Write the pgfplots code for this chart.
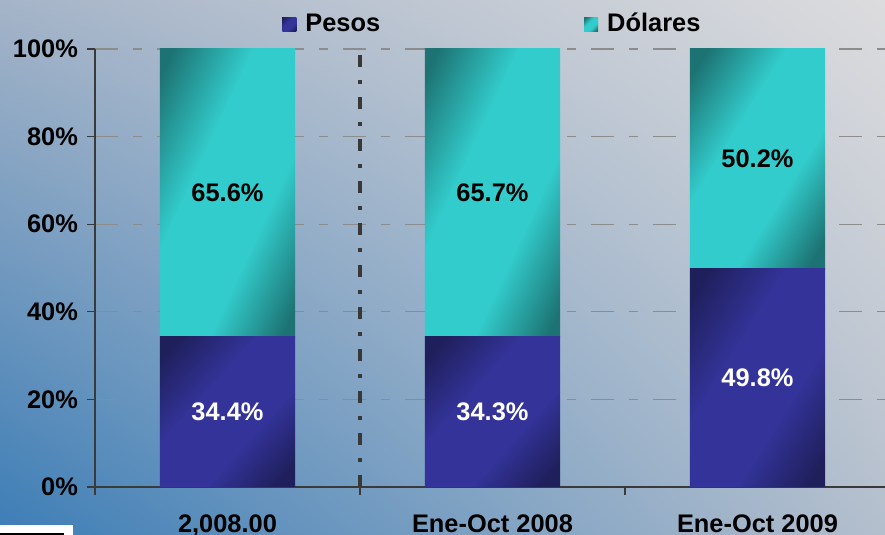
\documentclass[border=0pt]{standalone}
\usepackage{pgfplots}
\pgfplotsset{compat=1.18}
\usepackage{pgfplotstable}
\usepackage{fontspec}
\setmainfont{Liberation Sans}
\usetikzlibrary{shadings}

\definecolor{pbright}{HTML}{333399}
\definecolor{pdark}{HTML}{1F1F5C}
\definecolor{dbright}{HTML}{33CCCC}
\definecolor{ddark}{HTML}{1D7373}
\definecolor{bgTL}{HTML}{A5B4C8}
\definecolor{bgTR}{HTML}{DCDCDE}
\definecolor{bgBL}{HTML}{3C7DB6}
\definecolor{bgBR}{HTML}{B4BFCD}
\definecolor{gridc}{HTML}{8C8C8C}
\definecolor{axc}{HTML}{3A3A3A}

\pgfdeclarehorizontalshading{pesosdiag}{100bp}{color(0bp)=(pdark); color(20bp)=(pdark); color(40bp)=(pbright); color(62bp)=(pbright); color(80bp)=(pdark); color(100bp)=(pdark)}
\pgfdeclarehorizontalshading{dolardiag}{100bp}{color(0bp)=(ddark); color(20bp)=(ddark); color(40bp)=(dbright); color(62bp)=(dbright); color(80bp)=(ddark); color(100bp)=(ddark)}

\newcommand{\lblfont}{\fontsize{12.7}{15}\selectfont\bfseries}

% one small table per category: Pesos (P) and Dolares (D) shares
\pgfplotstableread{
x P D
0 34.4 65.6
}\dataA
\pgfplotstableread{
x P D
1 34.3 65.7
}\dataB
\pgfplotstableread{
x P D
2 49.8 50.2
}\dataC

\pgfplotsset{
  baseax/.style={at={(47.5pt,24pt)}, anchor=south west,
    scale only axis, width=397.5pt, height=219pt,
    xmin=-0.5, xmax=2.5, ymin=0, ymax=100,
    enlarge x limits=false, enlarge y limits=false},
  barax/.style={baseax, hide axis, ybar stacked, bar width=0.51,
    point meta=explicit symbolic},
  pstyle/.style={draw=none, shade, shading=pesosdiag, shading angle=#1,
    nodes near coords={\pgfplotspointmeta\%},
    every node near coord/.style={anchor=center, text=white, font=\lblfont}},
  dstyle/.style={draw=none, shade, shading=dolardiag, shading angle=#1,
    nodes near coords={\pgfplotspointmeta\%},
    every node near coord/.style={anchor=center, text=black, font=\lblfont}},
}

\begin{document}
\begin{tikzpicture}
\useasboundingbox (0,0) rectangle (442.5pt,267.5pt);
\shade[lower left=bgBL, upper left=bgTL, upper right=bgTR, lower right=bgBR] (0,0) rectangle (442.5pt,267.5pt);
\fill[white] (0,0) rectangle (36.5pt,5pt);
\fill[black] (0,0) rectangle (32pt,1.2pt);
% frame: axes, grid, ticks, legend
\begin{axis}[
  baseax,
  axis x line*=bottom, axis y line*=left,
  axis line style={color=axc, line width=0.6pt},
  tick align=outside,
  major tick length=4pt,
  tick style={color=axc, line width=0.6pt},
  xtick={-0.5,0.5,1.5,2.5},
  x tick label as interval,
  xticklabels={{2,008.00},{Ene-Oct 2008},{Ene-Oct 2009}},
  ytick={0,20,40,60,80,100},
  yticklabels={0\%,20\%,40\%,60\%,80\%,100\%},
  tick label style={font=\lblfont, text=black},
  xticklabel style={yshift=-6.5pt},
  yticklabel style={xshift=-1pt},
  ymajorgrids,
  major grid style={color=gridc, line width=0.6pt, dash pattern=on 11.5pt off 7.5pt on 4.5pt off 7.5pt},
  extra x ticks={0.5},
  extra x tick labels={},
  extra x tick style={grid=major, major grid style={color=black!78, line width=2pt, dash pattern=on 6pt off 6.5pt on 2pt off 6.5pt}},
  legend style={at={(0.2352,1.057)}, anchor=west, draw=none, fill=none, inner sep=0pt, legend columns=2, font=\lblfont, /tikz/every even column/.append style={column sep=100pt}},
  legend image code/.code={\fill[#1] (0pt,-3.5pt) rectangle (7pt,3.5pt); \path (9.5pt,0pt);},
]
\addlegendimage{draw=none, shade, shading=pesosdiag, shading angle=-45}
\addlegendentry{Pesos}
\addlegendimage{draw=none, shade, shading=dolardiag, shading angle=-45}
\addlegendentry{Dólares}
\end{axis}
% bars, one axis per category so that each bar segment has its own shading
\begin{axis}[barax]
\addplot[pstyle=-42] table[x=x,y=P,meta=P]{\dataA};
\addplot[dstyle=-25] table[x=x,y=D,meta=D]{\dataA};
\end{axis}
\begin{axis}[barax]
\addplot[pstyle=-42] table[x=x,y=P,meta=P]{\dataB};
\addplot[dstyle=-25] table[x=x,y=D,meta=D]{\dataB};
\end{axis}
\begin{axis}[barax]
\addplot[pstyle=-32] table[x=x,y=P,meta=P]{\dataC};
\addplot[dstyle=-32] table[x=x,y=D,meta=D]{\dataC};
\end{axis}
\end{tikzpicture}
\end{document}
